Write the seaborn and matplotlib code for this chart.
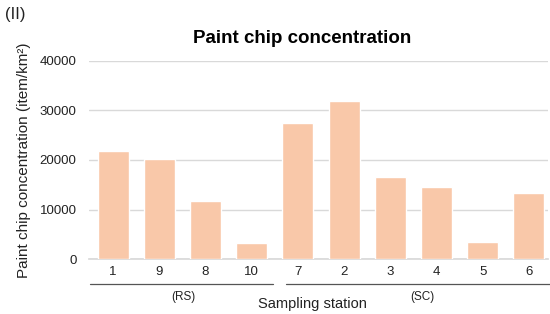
"""Paint chip concentration by sampling station."""

import matplotlib

matplotlib.use("Agg")

import matplotlib.pyplot as plt
import pandas as pd
import seaborn as sns

STATIONS = ["1", "9", "8", "10", "7", "2", "3", "4", "5", "6"]
CONCENTRATION = [21800, 20200, 11700, 3200, 27500, 31900, 16600, 14500, 3400, 13300]
GROUPS = ["RS", "RS", "RS", "RS", "SC", "SC", "SC", "SC", "SC", "SC"]
Y_TICKS = [0, 10000, 20000, 30000, 40000]

BAR_COLOR = "#F9C8A9"
GRID_COLOR = "#D9D9D9"
TEXT_COLOR = "#222222"

sns.set_theme(style="white")
plt.rcParams["font.family"] = ["Liberation Sans", "DejaVu Sans"]

df = pd.DataFrame({"station": STATIONS, "value": CONCENTRATION, "group": GROUPS})

fig = plt.figure(figsize=(5.5, 3.14), dpi=100)
ax = fig.add_axes([0.162, 0.175, 0.834, 0.631])

sns.barplot(
    data=df,
    x="station",
    y="value",
    order=STATIONS,
    color=BAR_COLOR,
    saturation=1,
    width=0.67,
    ax=ax,
    zorder=3,
)

ax.set_ylim(0, 40000)
ax.set_yticks(Y_TICKS)
ax.set_yticklabels([str(t) for t in Y_TICKS], fontsize=9.5, color=TEXT_COLOR)
ax.set_xlim(-0.52, 9.41)
ax.tick_params(axis="x", labelsize=9.5, colors=TEXT_COLOR, length=0, pad=5)
ax.tick_params(axis="y", length=0, pad=9)
ax.yaxis.grid(True, color=GRID_COLOR, linewidth=1, zorder=0)
ax.set_axisbelow(True)
for side in ["top", "right", "left"]:
    ax.spines[side].set_visible(False)
ax.spines["bottom"].set_color(GRID_COLOR)

ax.set_xlabel("Sampling station", fontsize=10.5, color=TEXT_COLOR, labelpad=15)
ax.xaxis.set_label_coords(0.487, -0.19)
ax.xaxis.label.set_va("top")
ax.set_ylabel("Paint chip concentration (item/km²)", fontsize=11, color=TEXT_COLOR, labelpad=6)
ax.set_title("Paint chip concentration", fontsize=13.5, fontweight="bold", color="black",
             pad=13, x=0.464)

# group brackets under the station labels
trans = ax.get_xaxis_transform()
positions = {s: i for i, s in enumerate(STATIONS)}
for name in ["RS", "SC"]:
    idx = [positions[s] for s, g in zip(STATIONS, GROUPS) if g == name]
    x0, x1 = min(idx) - 0.5, max(idx) + 0.5
    if name == "RS":
        x1 -= 0.04
    else:
        x0 += 0.24
    ax.plot([x0, x1], [-0.126, -0.126], transform=trans, color="#555555",
            linewidth=0.9, clip_on=False)
    label_x = {"RS": 1.52, "SC": 6.69}[name]
    ax.text(label_x, -0.19, f"({name})", transform=trans, ha="center", va="center",
            fontsize=8.5, color=TEXT_COLOR)

fig.text(0.009, 0.955, "(II)", fontsize=12, color=TEXT_COLOR, ha="left", va="center")

fig.savefig("out.png", dpi=100)
